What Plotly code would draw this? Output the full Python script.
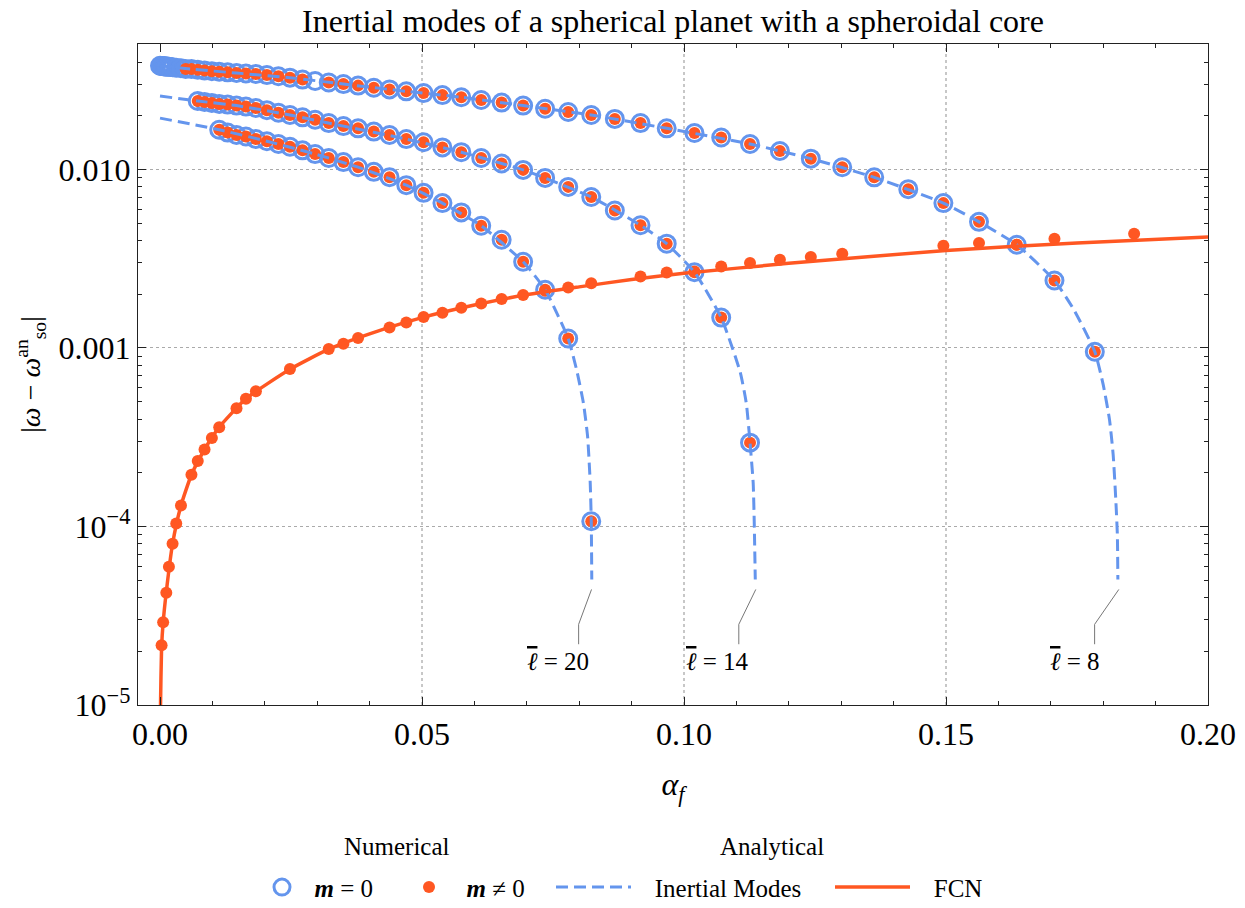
import math
import plotly.graph_objects as go

# ---------------- data ----------------
# Numerical inertial modes (m = 0 circles), per mode l
ALPHA_L8 = [0.0, 0.0002, 0.0004, 0.0006, 0.0008, 0.0010, 0.0012, 0.0014, 0.0017, 0.0020,
            0.0024, 0.0031, 0.0040, 0.0049,
            0.0060, 0.0072, 0.0085, 0.0099, 0.0113, 0.0129, 0.0146, 0.0164, 0.0183,
            0.0204, 0.0226, 0.0248, 0.0272, 0.0296, 0.0322, 0.0350, 0.0378, 0.0408,
            0.0438, 0.0470, 0.0503, 0.0539, 0.0575, 0.0613, 0.0652, 0.0693, 0.0735,
            0.0779, 0.0823, 0.0868, 0.0917, 0.0967, 0.1020, 0.1071, 0.1126, 0.1183,
            0.1242, 0.1302, 0.1363, 0.1428, 0.1495, 0.1563, 0.1635, 0.1707, 0.1784]
Y_L8 = [0.0381, 0.0380, 0.0380, 0.0379, 0.0379, 0.0378, 0.0377, 0.0377, 0.0376, 0.0375,
        0.0374, 0.0371, 0.0369, 0.0366,
        0.0365, 0.0362, 0.0359, 0.0355, 0.0353, 0.0350, 0.0347, 0.0345, 0.0343,
        0.0338, 0.0333, 0.0327, 0.0319, 0.0313, 0.0307, 0.0301, 0.0295, 0.0287,
        0.0281, 0.0274, 0.0268, 0.0261, 0.0254, 0.0245, 0.0237, 0.0228, 0.0219,
        0.0210, 0.0202, 0.0192, 0.0182, 0.0170, 0.0160, 0.0151, 0.0139, 0.0127,
        0.0115, 0.0103, 0.00904, 0.00776, 0.00648, 0.00509, 0.00379, 0.00239, 0.000953]

ALPHA_L14 = [0.0072, 0.0085, 0.0099, 0.0113, 0.0129, 0.0146, 0.0164, 0.0183, 0.0204,
             0.0226, 0.0248, 0.0272, 0.0296, 0.0322, 0.0350, 0.0378, 0.0408, 0.0438,
             0.0470, 0.0503, 0.0539, 0.0575, 0.0613, 0.0652, 0.0693, 0.0735, 0.0779,
             0.0823, 0.0868, 0.0917, 0.0967, 0.1020, 0.1071, 0.1126]
Y_L14 = [0.0242, 0.0239, 0.0236, 0.0233, 0.0231, 0.0228, 0.0225, 0.0221, 0.0215,
         0.0208, 0.0202, 0.0196, 0.0190, 0.0182, 0.0175, 0.0170, 0.0163, 0.0156,
         0.0148, 0.0142, 0.0133, 0.0125, 0.0116, 0.0108, 0.00995, 0.00897, 0.00799,
         0.00701, 0.00589, 0.00487, 0.00384, 0.00266, 0.00148, 0.000295]

ALPHA_L20 = [0.0113, 0.0129, 0.0146, 0.0164, 0.0183, 0.0204, 0.0226, 0.0248, 0.0272,
             0.0296, 0.0322, 0.0350, 0.0378, 0.0408, 0.0438, 0.0470, 0.0503, 0.0539,
             0.0575, 0.0613, 0.0652, 0.0693, 0.0735, 0.0779, 0.0823]
Y_L20 = [0.0167, 0.0161, 0.0156, 0.0153, 0.0148, 0.0144, 0.0139, 0.0134, 0.0128,
         0.0122, 0.0116, 0.0110, 0.0103, 0.0097, 0.00906, 0.00817, 0.00740, 0.00648,
         0.00575, 0.00484, 0.00404, 0.00304, 0.00212, 0.00113, 0.000107]

# m != 0 numerical points that sit inside the mode circles start at these alphas
MNZ_START = {"l8": 0.0049, "l14": 0.0072, "l20": 0.0113}
MNZ_MISSING_L8 = [0.0296]

# Numerical FCN (m != 0)
FCN_DOT_A = [0.0003, 0.0006, 0.0012, 0.0017, 0.0024, 0.0031, 0.0040, 0.0060, 0.0072,
             0.0085, 0.0099, 0.0113, 0.0146, 0.0164, 0.0183, 0.0248, 0.0322, 0.0350,
             0.0378, 0.0438, 0.0470, 0.0503, 0.0539, 0.0575, 0.0613, 0.0652, 0.0693,
             0.0735, 0.0779, 0.0823, 0.0917, 0.0967, 0.1020, 0.1071, 0.1126, 0.1183,
             0.1242, 0.1302, 0.1495, 0.1563, 0.1635, 0.1707, 0.1859]
FCN_DOT_Y = [2.16e-5, 2.91e-5, 4.26e-5, 5.95e-5, 8.0e-5, 1.04e-4, 1.31e-4, 1.95e-4, 2.33e-4,
             2.70e-4, 3.13e-4, 3.60e-4, 4.59e-4, 5.19e-4, 5.72e-4, 7.63e-4, 9.87e-4, 1.057e-3,
             1.137e-3, 1.304e-3, 1.39e-3, 1.491e-3, 1.576e-3, 1.68e-3, 1.776e-3, 1.88e-3, 1.979e-3,
             2.093e-3, 2.183e-3, 2.305e-3, 2.516e-3, 2.65e-3, 2.684e-3, 2.86e-3, 2.99e-3, 3.12e-3,
             3.23e-3, 3.37e-3, 3.736e-3, 3.87e-3, 3.785e-3, 4.09e-3, 4.36e-3]

# Analytical inertial-mode curves
IM8_A = [0.0, 0.0060, 0.0146, 0.0248, 0.0350, 0.0470, 0.0575, 0.0693, 0.0823, 0.0967,
         0.1126, 0.1242, 0.1363, 0.1495, 0.1563, 0.1635, 0.1707, 0.1745, 0.1784, 0.1800,
         0.1812, 0.1819, 0.1824, 0.1827, 0.1828]
IM8_Y = [0.0381, 0.0365, 0.0347, 0.0327, 0.0301, 0.0274, 0.0254, 0.0228, 0.0202, 0.0170,
         0.0139, 0.0115, 0.00904, 0.00648, 0.00509, 0.00379, 0.00239, 0.00162, 0.000953, 0.000623,
         0.000397, 0.000253, 0.000142, 0.0000902, 0.0000505]
IM14_A = [0.0, 0.0072, 0.0146, 0.0248, 0.0350, 0.0470, 0.0575, 0.0693, 0.0823, 0.0917,
          0.0967, 0.1020, 0.1071, 0.1107, 0.1119, 0.1126, 0.1132, 0.1134, 0.1136]
IM14_Y = [0.0258, 0.0242, 0.0228, 0.0202, 0.0175, 0.0148, 0.0125, 0.00995, 0.00701, 0.00487,
          0.00384, 0.00266, 0.00148, 0.000737, 0.000488, 0.000295, 0.000176, 0.000107, 0.0000505]
IM20_A = [0.0, 0.0113, 0.0204, 0.0296, 0.0378, 0.0470, 0.0539, 0.0613, 0.0693, 0.0735,
          0.0779, 0.0795, 0.0808, 0.0816, 0.0821, 0.0823, 0.0824]
IM20_Y = [0.0194, 0.0167, 0.0144, 0.0122, 0.0103, 0.00817, 0.00648, 0.00484, 0.00304, 0.00212,
          0.00113, 0.000756, 0.000492, 0.000320, 0.000176, 0.000107, 0.0000505]

# Analytical FCN curve
FCN_A = [0.00005, 0.0001, 0.0003, 0.0006, 0.0012, 0.0024, 0.0040, 0.0060, 0.0085, 0.0113,
         0.0164, 0.0248, 0.0322, 0.0400, 0.0500, 0.0600, 0.0700, 0.0800, 0.0900, 0.1000,
         0.1200, 0.1500, 0.1750, 0.2000]
FCN_Y = [6.0e-6, 1.0e-5, 2.1e-5, 2.9e-5, 4.3e-5, 8.0e-5, 1.31e-4, 1.95e-4, 2.7e-4, 3.6e-4,
         5.2e-4, 7.6e-4, 9.85e-4, 1.2e-3, 1.48e-3, 1.74e-3, 1.99e-3, 2.2e-3, 2.42e-3, 2.62e-3,
         2.98e-3, 3.52e-3, 3.88e-3, 4.18e-3]

# Mode labels and their leader lines
LABEL_NUM = ["20", "14", "8"]
LABEL_A = [0.0760, 0.1063, 0.1746]
LABEL_Y = [1.75e-5, 1.75e-5, 1.75e-5]
LEADER_A = [[0.08235, 0.07989, 0.07989], [0.1137, 0.11046, 0.11046], [0.18298, 0.17836, 0.17836]]
LEADER_Y = [[4.44e-5, 2.83e-5, 2.19e-5]] * 3

X_TICKS = [0.0, 0.05, 0.10, 0.15, 0.20]
X_TICKTEXT = ["0.00", "0.05", "0.10", "0.15", "0.20"]
Y_TICKS = [1e-5, 1e-4, 1e-3, 1e-2]
Y_TICKTEXT = ["10<sup>−5</sup>", "10<sup>−4</sup>", "0.001", "0.010"]

# ---------------- figure ----------------
BLUE = "#6495ED"
RED = "#FF5722"
FONT = "Liberation Serif"
AXC = "#222222"
NB = "\u00a0"
W, H = 1245, 908
L, R, T, B = 138, 37, 44, 202.5
PW, PH = W - L - R, H - T - B

fig = go.Figure()

circ_x = ALPHA_L8 + ALPHA_L14 + ALPHA_L20
circ_y = Y_L8 + Y_L14 + Y_L20
fig.add_trace(go.Scatter(
    x=circ_x, y=circ_y, mode="markers", name=NB * 2 + "<b><i>m</i></b> = 0", legend="legend",
    marker=dict(symbol="circle-open", size=17, color=BLUE, line=dict(width=3, color=BLUE)),
    hoverinfo="skip"))

dot_x, dot_y = list(FCN_DOT_A), list(FCN_DOT_Y)
for key, al, yl in (("l8", ALPHA_L8, Y_L8), ("l14", ALPHA_L14, Y_L14), ("l20", ALPHA_L20, Y_L20)):
    for a, v in zip(al, yl):
        if a >= MNZ_START[key] and not (key == "l8" and a in MNZ_MISSING_L8):
            dot_x.append(a)
            dot_y.append(v)
fig.add_trace(go.Scatter(
    x=dot_x, y=dot_y, mode="markers", name=NB * 2 + "\u2009<b><i>m</i></b> ≠ 0", legend="legend2",
    marker=dict(symbol="circle", size=12, color=RED, line=dict(width=0)),
    hoverinfo="skip"))

for i, (a, v) in enumerate(((IM8_A, IM8_Y), (IM14_A, IM14_Y), (IM20_A, IM20_Y))):
    fig.add_trace(go.Scatter(
        x=a, y=v, mode="lines", name=NB * 3 + "Inertial Modes", legendgroup="im",
        showlegend=(i == 0), legend="legend3",
        line=dict(color=BLUE, width=3, dash="12px,6px", shape="spline", smoothing=0.5),
        hoverinfo="skip"))

fig.add_trace(go.Scatter(
    x=FCN_A, y=FCN_Y, mode="lines", name=NB * 3 + "FCN", legend="legend4",
    line=dict(color=RED, width=3.5, shape="spline", smoothing=0.5), hoverinfo="skip"))

for la, ly in zip(LEADER_A, LEADER_Y):
    fig.add_trace(go.Scatter(x=la, y=ly, mode="lines", showlegend=False,
                             line=dict(color="#777777", width=1), hoverinfo="skip"))

annotations = []
for n, a, v in zip(LABEL_NUM, LABEL_A, LABEL_Y):
    annotations.append(dict(
        text="<span style='text-decoration:overline'><i>ℓ</i></span> = " + n,
        x=a, y=math.log10(v), xref="x", yref="y", showarrow=False,
        font=dict(size=25, family=FONT, color="black"), xanchor="center", yanchor="middle"))
for t, px in (("Numerical", 397), ("Analytical", 772)):
    annotations.append(dict(text=t, x=(px - L) / PW, y=(H - B - 847) / PH,
                            xref="paper", yref="paper", showarrow=False,
                            font=dict(size=25, family=FONT, color="black"),
                            xanchor="center", yanchor="middle"))

shapes = []
for v in X_TICKS[1:-1]:
    shapes.append(dict(type="line", x0=v, x1=v, y0=0, y1=1, xref="x", yref="paper",
                       line=dict(color="#aaaaaa", width=1.3, dash="dot"), layer="below"))

minor_y = [m * 10.0 ** e for e in range(-5, -1) for m in range(2, 10)]

LEG_Y = (H - B - 888) / PH
leg_common = dict(orientation="h", y=LEG_Y, yanchor="middle", xanchor="left",
                  font=dict(size=25, family=FONT, color="black"), bgcolor="rgba(0,0,0,0)")

fig.update_layout(
    width=W, height=H,
    margin=dict(l=L, r=R, t=T, b=B, autoexpand=False),
    paper_bgcolor="white", plot_bgcolor="white",
    font=dict(family=FONT, color="black"),
    title=dict(text="Inertial modes of a spherical planet with a spheroidal core",
               xref="paper", x=0.5, xanchor="center", yref="container", y=1 - 21 / H,
               yanchor="middle", font=dict(size=32, family=FONT, color="black")),
    legend=dict(leg_common, x=(262 - L) / PW, itemwidth=30),
    legend2=dict(leg_common, x=(409 - L) / PW, itemwidth=30),
    legend3=dict(leg_common, x=(551 - L) / PW, itemwidth=75),
    legend4=dict(leg_common, x=(830 - L) / PW, itemwidth=75),
    annotations=annotations, shapes=shapes,
    xaxis=dict(range=[-0.0042, 0.2], tickvals=X_TICKS, ticktext=X_TICKTEXT,
               ticks="inside", ticklen=8, tickwidth=1.2, tickcolor=AXC,
               mirror="allticks", showline=True, linecolor=AXC, linewidth=1.3,
               showgrid=False, zeroline=False,
               tickfont=dict(size=32, family=FONT, color="black"),
               ticklabelstandoff=0,
               minor=dict(dtick=0.01, tick0=0, ticks="inside", ticklen=4, tickcolor=AXC,
                          tickwidth=1, showgrid=False),
               title=dict(text="<i>α<sub>f</sub></i>", font=dict(size=32, family=FONT, color="black"),
                          standoff=22)),
    yaxis=dict(type="log", range=[-5, -1.297], tickvals=Y_TICKS, ticktext=Y_TICKTEXT,
               ticks="inside", ticklen=8, tickwidth=1.2, tickcolor=AXC,
               mirror="allticks", showline=True, linecolor=AXC, linewidth=1.3,
               showgrid=True, gridcolor="#aaaaaa", griddash="dot", gridwidth=1.3,
               zeroline=False, tickfont=dict(size=32, family=FONT, color="black"),
               ticklabelstandoff=0,
               minor=dict(tickvals=minor_y, ticks="inside", ticklen=4, tickcolor=AXC,
                          tickwidth=1, showgrid=False),
               title=dict(text="|<i>ω</i> − <i>ω</i><sup>an</sup><sub>so</sub>|",
                          font=dict(size=28, family=FONT, color="black"), standoff=9)),
)

fig.write_html("out.html", config={"displayModeBar": False},
               post_script="document.body.style.margin='0px';")
